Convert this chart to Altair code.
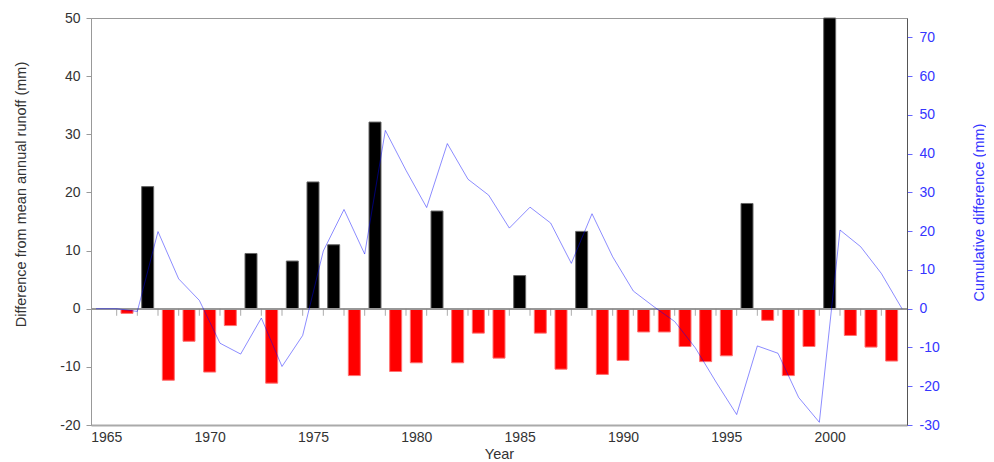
import altair as alt
import pandas as pd

# Annual difference from mean annual runoff (mm), bars
years = list(range(1966, 2004))
diff = [-0.8, 21.0, -12.3, -5.6, -10.9, -2.9, 9.5, -12.8, 8.2, 21.8,
        11.0, -11.5, 32.1, -10.8, -9.3, 16.8, -9.3, -4.2, -8.5, 5.7,
        -4.2, -10.4, 13.3, -11.3, -8.9, -4.0, -4.0, -6.5, -9.1, -8.1,
        18.1, -2.0, -11.5, -6.5, 50.0, -4.6, -6.6, -9.0]

# Cumulative difference (mm), plotted at the end of each year
line_years = [y + 0.5 for y in range(1964, 2004)]
cumulative = [0.0, 0.0, -0.7, 19.9, 7.7, 2.15, -8.9, -11.7, -2.4, -14.9,
              -6.9, 14.9, 25.6, 14.1, 46.0, 35.7, 26.1, 42.6, 33.4, 29.3,
              20.8, 26.2, 22.1, 11.7, 24.5, 13.4, 4.55, 0.5, -3.3, -10.1,
              -18.9, -27.3, -9.6, -11.5, -22.9, -29.3, 20.3, 16.0, 9.1, 0.0]

x_labels = [1965, 1970, 1975, 1980, 1985, 1990, 1995, 2000]
left_ticks = [-20, -10, 0, 10, 20, 30, 40, 50]
right_ticks = [-30, -20, -10, 0, 10, 20, 30, 40, 50, 60, 70]

bar_df = pd.DataFrame({"year": years, "diff": diff})
line_df = pd.DataFrame({"yr": line_years, "cum": cumulative})
tick_df = pd.DataFrame({"tx": line_years[1:-1]})

FONT = "Liberation Sans"
BLUE = "#3535ff"

x_scale = alt.Scale(domain=[1964.5, 2003.5], nice=False, zero=False)
y_left = alt.Scale(domain=[-20, 50], nice=False, zero=False)
y_right = alt.Scale(domain=[-30, 75], nice=False, zero=False)

x_axis = alt.Axis(values=x_labels, format="d", title="Year", ticks=False,
                  grid=False, labelPadding=5, domainColor="#aaaaaa",
                  domainWidth=2, labelFontSize=14, labelColor="#333333",
                  titleFontSize=14.5, titleFontWeight="normal",
                  titleColor="#333333", titleBaseline="bottom", titleY=36.5,
                  labelFlush=False)

left_axis = alt.Axis(values=left_ticks, grid=False, tickSize=5,
                     tickColor="#999999", domainColor="#999999",
                     labelPadding=6, labelFontSize=14,
                     labelColor="#333333",
                     labelExpr="toString(datum.value)",
                     title="Difference from mean annual runoff (mm)",
                     titleFontSize=14.5, titleFontWeight="normal",
                     titleColor="#333333", titleX=-63, titleY=176,
                     titleBaseline="bottom", titleAngle=270)

bars = alt.Chart(bar_df).transform_calculate(zero="0").mark_bar(
    size=12, strokeWidth=1
).encode(
    x=alt.X("year:Q", scale=x_scale, axis=x_axis),
    y=alt.Y("diff:Q", scale=y_left, axis=left_axis),
    y2="zero:Q",
    color=alt.condition("datum.diff > 0", alt.value("black"), alt.value("red")),
    stroke=alt.condition("datum.diff > 0", alt.value("#666666"),
                         alt.value("#ff7070")),
)

zero_rule = alt.Chart(bar_df).transform_calculate(zero="0").mark_rule(
    color="#999999", strokeWidth=1
).encode(
    y=alt.Y("zero:Q", scale=y_left, axis=left_axis),
)

minor_ticks = alt.Chart(tick_df).transform_calculate(zero="0").mark_tick(
    orient="vertical", size=7, thickness=1, color="#888888", yOffset=3.5
).encode(
    x=alt.X("tx:Q", scale=x_scale, axis=x_axis),
    y=alt.Y("zero:Q", scale=y_left, axis=left_axis),
)

left_layer = alt.layer(bars, zero_rule, minor_ticks)

line = alt.Chart(line_df).mark_line(
    color="#0000ff", opacity=0.45, strokeWidth=1
).encode(
    x=alt.X("yr:Q", scale=x_scale, axis=x_axis),
    y=alt.Y("cum:Q", scale=y_right,
            axis=alt.Axis(orient="right", values=right_ticks, grid=False,
                          tickSize=5, tickColor="#6666ff",
                          domainColor="#555555", labelPadding=7,
                          labelFontSize=14, labelColor=BLUE,
                          labelExpr="toString(datum.value)",
                          title="Cumulative difference (mm)",
                          titleFontSize=14.5, titleFontWeight="normal",
                          titleColor=BLUE, titleAngle=270, titleX=79,
                          titleY=194, titleBaseline="bottom")),
)

chart = alt.layer(left_layer, line).resolve_scale(y="independent").properties(
    width=816, height=407,
    padding={"left": 83, "top": 10, "right": 79, "bottom": 36},
    autosize=alt.AutoSizeParams(type="none"),
).configure(font=FONT).configure_axis(grid=False).configure_view(
    stroke="#999999", strokeWidth=1)

chart.save("out.html", embed_options={"renderer": "svg", "actions": False})
